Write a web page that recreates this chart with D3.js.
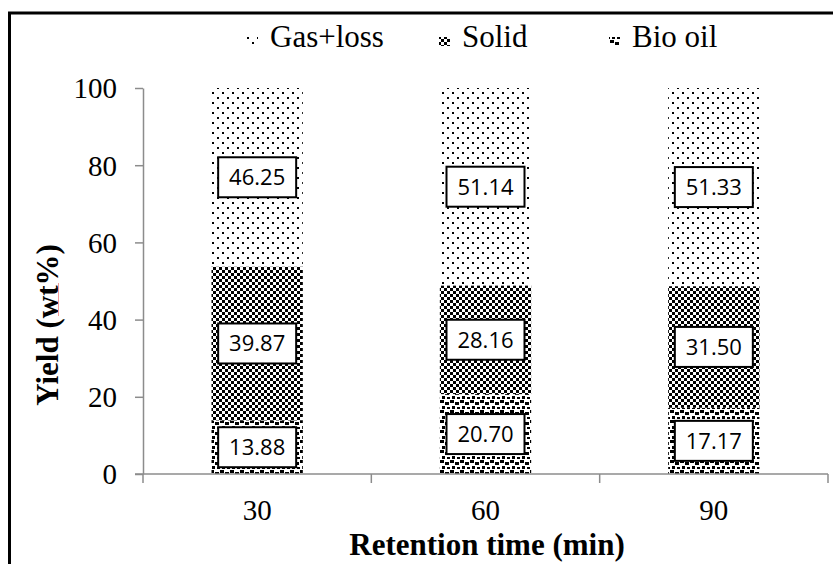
<!DOCTYPE html>
<html>
<head>
<meta charset="utf-8">
<script src="https://cdn.jsdelivr.net/npm/d3@7"></script>
<style>
  html, body { margin: 0; padding: 0; background: #fff; }
  svg { display: block; }
</style>
</head>
<body>
<svg id="chart" width="833" height="564"></svg>
<script>
// Retention time categories (min)
const categories = ["30", "60", "90"];
// Product yields, wt%, stacked bottom to top
const bioOil = [13.88, 20.70, 17.17];
const solid = [39.87, 28.16, 31.50];
const gasLoss = [46.25, 51.14, 51.33];
const yTicks = [0, 20, 40, 60, 80, 100];
const seriesNames = ["Bio oil", "Solid", "Gas+loss"];
const legendOrder = ["Gas+loss", "Solid", "Bio oil"];

const svg = d3.select("#chart");
const plot = { left: 143, right: 828, top: 88, bottom: 474 };
const serif = "'Liberation Serif', 'Times New Roman', serif";
const labelFont = "'Open Sans', 'Liberation Sans', sans-serif";

// ---- fill patterns ----
const defs = svg.append("defs");
function pattern(id, size, cells) {
  const p = defs.append("pattern").attr("id", id)
    .attr("patternUnits", "userSpaceOnUse").attr("width", size).attr("height", size);
  p.append("rect").attr("width", size).attr("height", size).attr("fill", "#fff");
  cells.forEach(([x, y, w, h]) =>
    p.append("rect").attr("x", x).attr("y", y).attr("width", w).attr("height", h).attr("fill", "#000"));
}
// sparse staggered dots
pattern("pat-gas", 10, [[2, 2, 2, 2], [7, 7, 2, 2]]);
// small checker board
pattern("pat-solid", 6, [[0, 0, 3, 3], [3, 3, 3, 3]]);
// large confetti
pattern("pat-bio", 10, [[0, 0, 4, 3], [5, 2, 4, 3], [2, 6, 3, 3], [7, 7, 3, 2]]);

const fills = { "Bio oil": "url(#pat-bio)", "Solid": "url(#pat-solid)", "Gas+loss": "url(#pat-gas)" };

// ---- outer frame ----
svg.append("rect").attr("x", 9.5).attr("y", 13).attr("width", 900).attr("height", 700)
  .attr("fill", "none").attr("stroke", "#000").attr("stroke-width", 3);

// ---- scales ----
const x = d3.scaleBand().domain(categories).range([plot.left, plot.right])
  .paddingInner(0.6).paddingOuter(0.3);
const y = d3.scaleLinear().domain([0, 100]).range([plot.bottom, plot.top]);

// ---- stacked data ----
const rows = categories.map((c, i) => ({ cat: c, "Bio oil": bioOil[i], "Solid": solid[i], "Gas+loss": gasLoss[i] }));
const stack = d3.stack().keys(seriesNames)(rows);

const gBars = svg.append("g");
stack.forEach(layer => {
  gBars.selectAll(null).data(layer).enter().append("rect")
    .attr("x", d => x(d.data.cat))
    .attr("width", x.bandwidth())
    .attr("y", d => y(d[1]))
    .attr("height", d => y(d[0]) - y(d[1]))
    .attr("fill", fills[layer.key]);
});

// ---- y axis ----
const yAxis = d3.axisLeft(y).tickValues(yTicks).tickSize(8).tickPadding(18).tickSizeOuter(0);
const gy = svg.append("g").attr("transform", `translate(${plot.left},0)`).call(yAxis);
gy.select(".domain").attr("stroke", "#8c8c8c").attr("stroke-width", 1.5);
gy.selectAll(".tick line").attr("stroke", "#8c8c8c").attr("stroke-width", 1.5);
gy.selectAll(".tick text").attr("font-family", serif).attr("font-size", 29).attr("fill", "#000").attr("dy", "0.34em");

// ---- x axis ----
const step = x.step();
const edges = categories.map(c => x(c) - x.paddingInner() * step / 2);
edges.push(edges[edges.length - 1] + step);
const gx = svg.append("g");
gx.append("line").attr("x1", plot.left - 8).attr("x2", edges[edges.length - 1])
  .attr("y1", plot.bottom).attr("y2", plot.bottom)
  .attr("stroke", "#8c8c8c").attr("stroke-width", 1.5);
gx.selectAll("line.tk").data(edges).enter().append("line").attr("class", "tk")
  .attr("x1", d => d).attr("x2", d => d).attr("y1", plot.bottom).attr("y2", plot.bottom + 9)
  .attr("stroke", "#8c8c8c").attr("stroke-width", 1.5);
gx.selectAll("text").data(categories).enter().append("text")
  .attr("x", d => x(d) + x.bandwidth() / 2).attr("y", 520)
  .attr("text-anchor", "middle").attr("font-family", serif).attr("font-size", 29).text(d => d);

// ---- value labels ----
const boxW = 78, boxH = 40;
const gLab = svg.append("g");
stack.forEach(layer => {
  layer.forEach(d => {
    const cx = x(d.data.cat) + x.bandwidth() / 2;
    const cy = (y(d[0]) + y(d[1])) / 2;
    const v = d.data[layer.key];
    gLab.append("rect").attr("x", cx - boxW / 2).attr("y", cy - boxH / 2)
      .attr("width", boxW).attr("height", boxH)
      .attr("fill", "#fff").attr("stroke", "#000").attr("stroke-width", 2);
    gLab.append("text").attr("x", cx).attr("y", cy).attr("dy", "0.36em")
      .attr("text-anchor", "middle").attr("font-family", labelFont).attr("font-size", 22)
      .text(v.toFixed(2));
  });
});

// ---- axis titles ----
svg.append("text").attr("x", 487).attr("y", 555).attr("text-anchor", "middle")
  .attr("font-family", serif).attr("font-weight", "bold").attr("font-size", 31)
  .text("Retention time (min)");
svg.append("text").attr("transform", "translate(58,325) rotate(-90)").attr("text-anchor", "middle")
  .attr("font-family", serif).attr("font-weight", "bold").attr("font-size", 31)
  .text("Yield (wt%)");
// proofing underline beneath "wt"
svg.append("line").attr("x1", 58.5).attr("x2", 58.5).attr("y1", 283).attr("y2", 316)
  .attr("stroke", "#f19a9a").attr("stroke-width", 1);

// ---- legend ----
const legendX = { "Gas+loss": 247, "Solid": 439, "Bio oil": 609 };
const gLeg = svg.append("g");
legendOrder.forEach(name => {
  const lx = legendX[name];
  gLeg.append("rect").attr("x", lx).attr("y", 37).attr("width", 11).attr("height", 9)
    .attr("fill", fills[name]);
  gLeg.append("text").attr("x", lx + 23).attr("y", 47)
    .attr("font-family", serif).attr("font-size", 31).text(name);
});
</script>
</body>
</html>
